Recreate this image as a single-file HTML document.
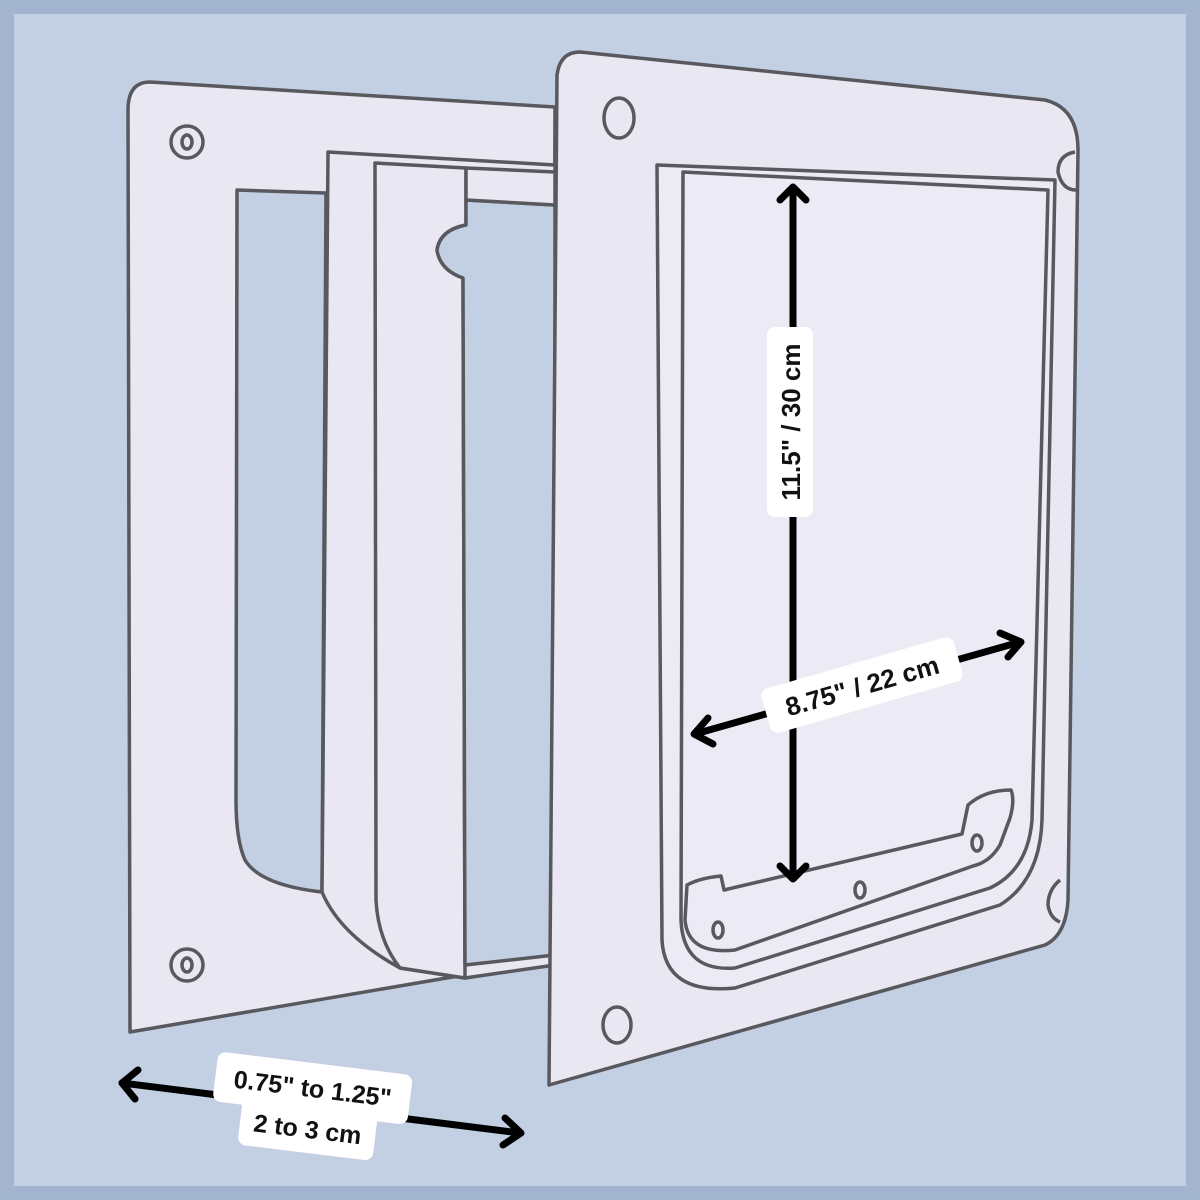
<!DOCTYPE html>
<html><head><style>
html,body{margin:0;padding:0;background:#a3b4cf;}
svg{display:block}
text{font-family:"Liberation Sans",sans-serif;font-weight:bold;fill:#111}
</style></head><body>
<svg width="1200" height="1200" viewBox="0 0 1200 1200" xmlns="http://www.w3.org/2000/svg">
<rect x="0" y="0" width="1200" height="1200" fill="#a3b4cf"/>
<rect x="14" y="14" width="1172" height="1172" fill="#c3d0e3"/>
<g stroke="#58585e" stroke-width="3.5" fill="#e8e7f2" stroke-linejoin="round">
<!-- left plate -->
<path d="M150,82 L555,107 L552,960 L130,1032 L128,110 Q128,82 150,82 Z"/>
<path d="M237,190 L326,193 L322,892 Q260,885 245,860 Q236,840 236,800 Z" fill="#c3d0e3"/>
<circle cx="187" cy="142" r="16" fill="none"/><ellipse cx="187" cy="142" rx="5" ry="7" fill="none"/>
<circle cx="187" cy="965" r="16" fill="none"/><ellipse cx="187" cy="965" rx="5" ry="7" fill="none"/>
<!-- tunnel -->
<path d="M328,152 L555,165 L555,965 L465,978 L400,968 Q340,935 322,892 Z"/>
<path d="M375,163 L466,168 L466,225 Q440,230 437,250 Q440,270 463,278 L465,978 L400,968 Q378,940 376,900 Z"/>
<path d="M466,200 L555,205 L555,955 L465,965 L463,278 Q440,270 437,250 Q440,230 466,225 Z" fill="#c3d0e3"/>
<path d="M466,168 L555,172 L555,205 L466,200 Z"/>
<!-- right plate -->
<path d="M580,52 L1045,100 Q1078,108 1078,150 L1068,900 Q1066,935 1045,945 L549,1085 L557,75 Q560,52 580,52 Z"/>
<path d="M657,165 L1055,180 L1042,820 Q1040,880 1000,905 L735,988 Q665,995 662,940 Z" fill="#ebeaf5"/>
<path d="M683,172 L1048,190 L1032,820 Q1028,870 990,888 L735,968 Q683,972 681,920 Z" fill="none"/>
<path d="M1011,790 Q1015,800 1010,818 L1000,845 Q990,862 973,866 L735,950 Q688,955 685,920 L687,885 Q700,878 721,876 L724,890 L962,834 L968,805 Q985,790 1011,790 Z" fill="none"/>
<ellipse cx="619" cy="118" rx="15" ry="20" fill="none"/>
<ellipse cx="617" cy="1025" rx="14" ry="18" fill="none"/>
<path d="M1075,152 Q1058,155 1058,172 Q1062,190 1076,190" fill="none"/>
<path d="M1060,880 Q1048,890 1048,905 Q1050,918 1060,922" fill="none"/>
<ellipse cx="718" cy="930" rx="5" ry="8" fill="none"/>
<ellipse cx="860" cy="890" rx="5" ry="8" fill="none"/>
<ellipse cx="977" cy="843" rx="5" ry="8" fill="none"/>
</g>
<!-- arrows -->
<g stroke="#000" stroke-width="7" fill="none" stroke-linecap="round" stroke-linejoin="round">
<line x1="793" y1="190" x2="793" y2="876"/>
<polyline points="780,200 793,187 806,200"/>
<polyline points="780,866 793,879 806,866"/>
<line x1="695" y1="734" x2="1020" y2="642"/>
<polyline points="708,718 694,734 713,744"/>
<polyline points="1000,633 1021,642 1008,657"/>
<line x1="122" y1="1083" x2="520" y2="1133"/>
<polyline points="138,1070 122,1083 135,1099"/>
<polyline points="505,1118 521,1133 503,1145"/>
</g>
<!-- labels -->
<g transform="translate(790,422) rotate(-90)">
<rect x="-95" y="-23" width="190" height="46" rx="8" fill="#fff"/>
<text x="0" y="10" font-size="26" text-anchor="middle">11.5" / 30 cm</text>
</g>
<g transform="translate(862,685) rotate(-16)">
<rect x="-100" y="-23" width="200" height="46" rx="8" fill="#fff"/>
<text x="0" y="10" font-size="26" text-anchor="middle">8.75" / 22 cm</text>
</g>
<g transform="translate(310,1110) rotate(7)">
<rect x="-98" y="-47" width="196" height="50" rx="8" fill="#fff"/>
<rect x="-68" y="-5" width="136" height="48" rx="8" fill="#fff"/>
<text x="0" y="-13" font-size="25" text-anchor="middle">0.75" to 1.25"</text>
<text x="0" y="28" font-size="25" text-anchor="middle">2 to 3 cm</text>
</g>
</svg>
</body></html>
